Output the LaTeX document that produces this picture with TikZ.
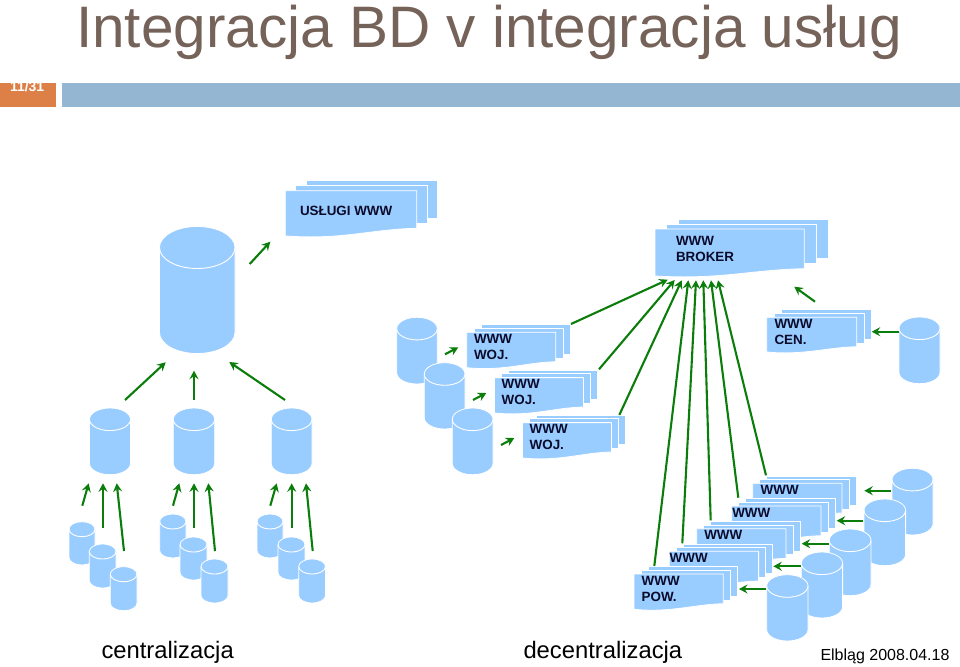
\documentclass[tikz,border=0pt]{standalone}
\usepackage{fontspec}
\setmainfont{Liberation Sans}
\usetikzlibrary{arrows.meta}
\definecolor{dbfill}{HTML}{99CCFF}
\definecolor{flow}{HTML}{0B7D0B}
\definecolor{titlegrey}{HTML}{75635A}
\definecolor{barblue}{HTML}{94B6D2}
\definecolor{barorange}{HTML}{DD8047}
\definecolor{labelink}{HTML}{0A0A2A}
\tikzset{
  blob/.style={fill=dbfill,draw=white,line width=0.8pt,line join=round},
  rim/.style={draw=white,line width=0.9pt},
  flowline/.style={draw=flow,line width=2.1pt,-{Stealth[length=8.5pt,width=9pt,inset=3pt]}},
  lab/.style={anchor=base west,inner sep=0pt,outer sep=0pt,text=labelink,font=\fontsize{13.4}{16}\selectfont\bfseries,align=left},
  caption/.style={anchor=base west,inner sep=0pt,outer sep=0pt,text=black},
  slot/.style={inner sep=0pt,outer sep=0pt,draw=none}
}
% database drum: name, left, right, top, bottom, cap half-height
\newcommand{\drum}[6]{%
  \pgfmathsetmacro{\rxv}{(#3-(#2))/2}%
  \path[blob] (#2,#4+#6) arc[start angle=180,end angle=360,x radius=\rxv,y radius=#6]
    -- (#3,#5-#6) arc[start angle=0,end angle=180,x radius=\rxv,y radius=#6] -- cycle;
  \path[rim] (#2,#4+#6) arc[start angle=180,end angle=0,x radius=\rxv,y radius=#6];
  \node[slot,minimum width=#3pt-#2pt,minimum height=#5pt-#4pt] (#1) at ({(#2+#3)/2},{(#4+#5)/2}) {};
}
% three stacked web pages: name, x, y, width, height, wave depth, shift x, shift y
\newcommand{\pages}[8]{%
  \pgfmathsetmacro{\xa}{#2+2*#7}\pgfmathsetmacro{\ya}{#3-2*#8}%
  \pgfmathsetmacro{\xb}{#2+#7}\pgfmathsetmacro{\yb}{#3-#8}%
  \path[blob] (\xa,\ya) rectangle ++(#4,#5);
  \path[blob] (\xb,\yb) rectangle ++(#4,#5);
  \pgfmathsetmacro{\xr}{#2+#4}\pgfmathsetmacro{\yr}{#3+#5}\pgfmathsetmacro{\yl}{#3+#5+#6}%
  \pgfmathsetmacro{\xc}{#2+0.72*#4}\pgfmathsetmacro{\xd}{#2+0.5*#4}\pgfmathsetmacro{\xe}{#2+0.2*#4}%
  \pgfmathsetmacro{\xf}{#2+0.08*#4}\pgfmathsetmacro{\ye}{\yl+0.9}%
  \path[blob] (#2,#3) -- (\xr,#3) -- (\xr,\yr)
    .. controls (\xc,\yr+0.6) and (\xd,\ye) .. (\xe,\ye)
    .. controls (\xf,\ye) and (#2+2,\yl) .. (#2,\yl) -- cycle;
  \node[slot,minimum width=#4pt,minimum height=#5pt] (#1) at ({#2+#4/2},{#3+#5/2}) {};
}
% free-standing flow arrow: name, start, end
\newcommand{\flow}[3]{%
  \coordinate (#1-a) at (#2);
  \coordinate (#1-b) at (#3);
  \draw[flowline] (#1-a) -- (#1-b);
}
\begin{document}
\begin{tikzpicture}[x=1pt,y=-1pt]
\useasboundingbox (0,0) rectangle (960,666);
\fill[white] (0,0) rectangle (960,666);

% header
\node[caption,text=titlegrey,font=\fontsize{58.5}{60}\selectfont] (title) at (76,47.3) {Integracja BD v integracja usług};
\fill[barorange] (0,83) rectangle (56,107.5);
\fill[barblue] (62,83) rectangle (960,107.5);
\begin{scope}
  \clip (0,83) rectangle (56,107.5);
  \node[caption,text=white,font=\fontsize{14}{15}\selectfont\bfseries] (pageno) at (10,92) {11/31};
\end{scope}

% central warehouse, left side
\drum{big}{159.5}{235}{226.5}{353.5}{21}
\pages{svc}{285.3}{190.7}{131.4}{37.6}{7.7}{10.3}{5}
\node[lab] (svcl) at (300,215) {USŁUGI WWW};
\flow{f01}{249.7,264}{270.3,241.7}
\drum{m1}{89.5}{130.5}{408}{474.7}{11.3}
\drum{m2}{173.3}{214.7}{408}{474.7}{11.3}
\drum{m3}{271.3}{312}{408}{474.7}{11.3}
\flow{f02}{125,400}{165.7,362.3}
\flow{f03}{194,400}{194,370.7}
\flow{f04}{285,400}{229.3,362}

\drum{s11}{69}{95}{521.7}{565}{7.5}
\drum{s12}{89.3}{116}{544}{588}{7.5}
\drum{s13}{110.3}{137}{566.7}{610.7}{7.5}
\drum{s21}{159.7}{186}{514}{558}{7.5}
\drum{s22}{180}{207}{537}{580}{7.5}
\drum{s23}{201}{228}{559}{603}{7.5}
\drum{s31}{257}{283}{514}{558}{7.5}
\drum{s32}{278}{305}{537}{580}{7.5}
\drum{s33}{298.7}{325.5}{559}{603}{7.5}
\flow{f11}{82.3,505.7}{88.7,483.3}
\flow{f12}{103,528.3}{103,483.3}
\flow{f13}{124,551}{116.7,483.3}
\flow{f21}{173,505.7}{179.3,483.3}
\flow{f22}{194,528.3}{194,483.3}
\flow{f23}{215,551}{208.3,483.3}
\flow{f31}{270.3,505.7}{276.7,483.3}
\flow{f32}{291.7,528.3}{291.7,483.3}
\flow{f33}{312.7,551}{306,483.3}

% broker and central web site
\pages{broker}{655}{229}{149.3}{39.7}{7.3}{11.8}{5}
\node[lab] (brokerl) at (676,261.7) {WWW\\BROKER};
\pages{cen}{766.7}{317.3}{90}{29.4}{5.3}{7.3}{3.8}
\node[lab] (cenl) at (774.5,344.3) {WWW\\CEN.};
\drum{dcen}{899}{940}{317}{383.7}{11.3}
\flow{f41}{899,331.7}{871.7,331.7}
\flow{f42}{815,301.7}{794.3,286.7}

% voivodeship sites
\drum{w1}{396.7}{437.3}{317.3}{384}{11.3}
\drum{w2}{424.3}{465}{362.7}{429}{11.3}
\drum{w3}{452.3}{493}{408}{474.7}{11.3}
\pages{woj1}{466.7}{332.3}{89}{29.4}{6}{7.2}{3.8}
\node[lab] (woj1l) at (474,359.3) {WWW\\WOJ.};
\pages{woj2}{494.4}{377.6}{89}{29.4}{6}{7.2}{3.8}
\node[lab] (woj2l) at (501.7,404.6) {WWW\\WOJ.};
\pages{woj3}{522.4}{422.6}{89}{29.4}{6}{7.2}{3.8}
\node[lab] (woj3l) at (529.7,449.6) {WWW\\WOJ.};
\flow{f51}{445,354.3}{458.3,347.3}
\flow{f52}{473,400}{486.3,393}
\flow{f53}{501,445}{514.3,438}
\flow{f54}{571,324}{667.7,279.7}
\flow{f55}{599,369.3}{674.7,280}
\flow{f56}{619.3,415}{681.7,280.3}

% district sites, farthest first
\pages{pow5}{752.7}{483.3}{89.3}{29.7}{5.6}{7}{3.7}
\node[lab] (pow5l) at (760.7,494.7) {WWW};
\pages{pow4}{731.7}{506}{89.3}{29.7}{5.6}{7}{3.7}
\node[lab] (pow4l) at (732.3,517.3) {WWW};
\pages{pow3}{696.7}{528.7}{89.3}{29.7}{5.6}{7}{3.7}
\node[lab] (pow3l) at (704.3,539.7) {WWW};
\pages{pow2}{669.3}{551.3}{89.3}{29.7}{5.6}{7}{3.7}
\node[lab] (pow2l) at (669.7,562.3) {WWW};
\pages{pow1}{634}{574}{89.3}{29.7}{5.6}{7}{3.7}
\node[lab] (pow1l) at (641.7,601.3) {WWW\\POW.};
\drum{p5}{892}{933}{468.3}{535}{11.3}
\drum{p4}{864}{905.6}{499}{565.7}{11.3}
\drum{p3}{829.3}{871}{529}{595.7}{11.3}
\drum{p2}{801.3}{842.6}{552}{618}{11.3}
\drum{p1}{766.7}{808}{574.7}{641}{11.3}
\flow{f61}{891,490.7}{864.3,490.7}
\flow{f62}{863.3,520.7}{836.7,520.7}
\flow{f63}{828.7,543.7}{801.7,543.7}
\flow{f64}{800.7,566.3}{773.3,566.3}
\flow{f65}{765.7,589}{739,589}
\flow{f71}{654.3,566}{688.3,280.3}
\flow{f72}{682.3,543.3}{696,280.3}
\flow{f73}{710.7,520.3}{703.3,280.3}
\flow{f74}{738.3,497.7}{711,280.3}
\flow{f75}{766,475.3}{718,280.3}

% captions
\node[caption,font=\fontsize{23.8}{26}\selectfont] (capc) at (101.5,658) {centralizacja};
\node[caption,font=\fontsize{23.8}{26}\selectfont] (capd) at (523.5,658) {decentralizacja};
\node[caption,font=\fontsize{16}{18}\selectfont] (date) at (820.5,660.5) {Elbląg 2008.04.18};
\end{tikzpicture}
\end{document}
